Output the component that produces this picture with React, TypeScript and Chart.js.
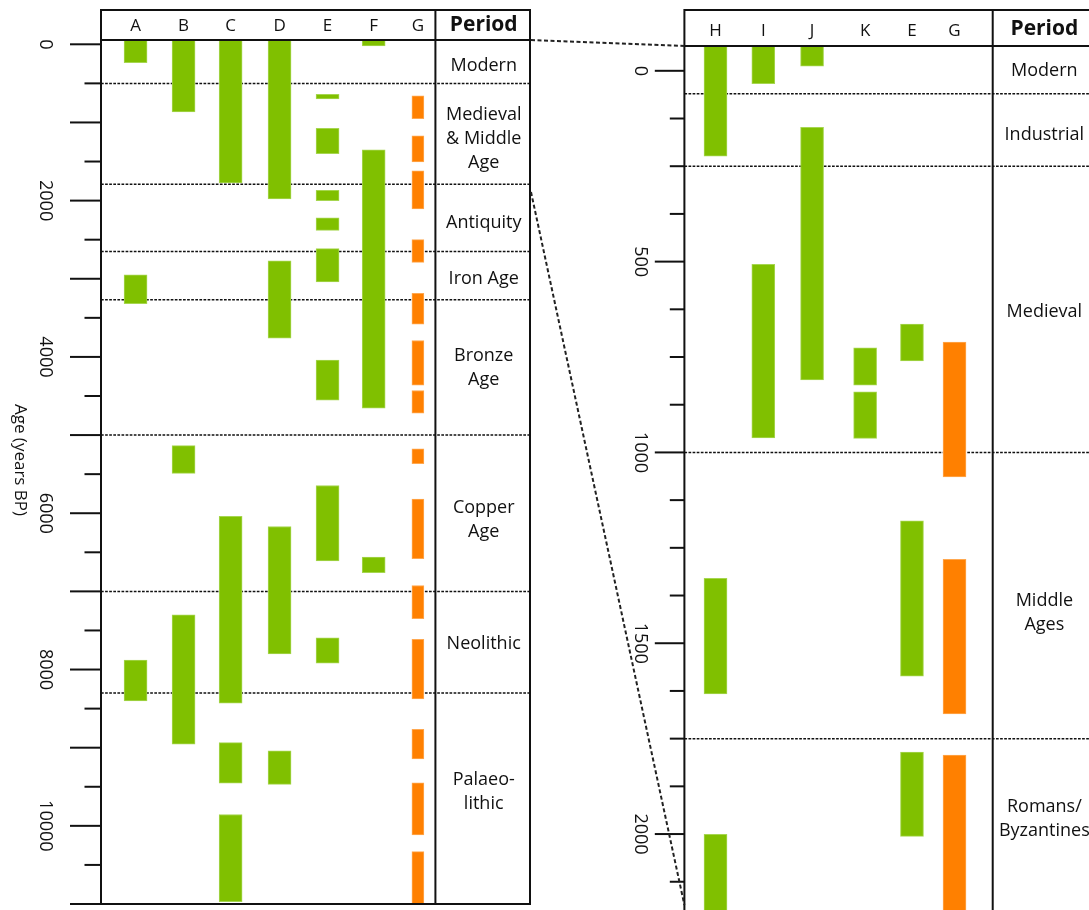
import React, { useEffect, useRef } from "react";
import { Chart, registerables } from "chart.js";

Chart.register(...registerables);

// ---------------- Left panel data (years BP) ----------------
const LEFT_CATEGORIES = ["A", "B", "C", "D", "E", "F", "G"];
const LEFT_POSITIONS = [1, 2.02, 3.02, 4.06, 5.08, 6.06, 7];
const A_RANGES = [[-50, 235], [2950, 3320], [7880, 8400]];
const B_RANGES = [[-50, 866], [5135, 5490], [7300, 8955]];
const C_RANGES = [[-50, 1775], [6040, 8430], [8935, 9455], [9855, 10970]];
const D_RANGES = [[-50, 1980], [2770, 3760], [6170, 7800], [9040, 9470]];
const E_RANGES = [[640, 700], [1075, 1400], [1870, 2000], [2220, 2380], [2615, 3040], [4040, 4555], [5645, 6610], [7595, 7920]];
const F_RANGES = [[-50, 20], [1350, 4655], [6560, 6760]];
const G_RANGES = [[660, 950], [1170, 1505], [1620, 2105], [2500, 2790], [3185, 3580], [3790, 4360], [4430, 4720], [5175, 5365], [5820, 6580], [6925, 7350], [7615, 8375], [8765, 9145], [9450, 10115], [10330, 11000]];
const LEFT_PERIOD_BOUNDS = [500, 1790, 2650, 3270, 5000, 7000, 8300];
const LEFT_PERIOD_NAMES = ["Modern", "Medieval\n& Middle\nAge", "Antiquity", "Iron Age", "Bronze\nAge", "Copper\nAge", "Neolithic", "Palaeo-\nlithic"];
const LEFT_PERIOD_LABEL_AT = [274, 1211, 2286, 3002, 4145, 6085, 7672, 9565];

// ---------------- Right panel data (years BP) ----------------
const RIGHT_CATEGORIES = ["H", "I", "J", "K", "E", "G"];
const RIGHT_POSITIONS = [1, 2, 3.02, 4.13, 5.11, 6.0];
const H_RANGES = [[-70, 224], [1330, 1633], [2001, 2300]];
const I_RANGES = [[-70, 34], [507, 962]];
const J_RANGES = [[-70, -12], [148, 810]];
const K_RANGES = [[726, 824], [841, 963]];
const E_RIGHT_RANGES = [[664, 760], [1179, 1586], [1785, 2006]];
const G_RIGHT_RANGES = [[711, 1064], [1280, 1685], [1793, 2300]];
const RIGHT_PERIOD_BOUNDS = [60, 250, 1000, 1750];
const RIGHT_PERIOD_NAMES = ["Modern", "Industrial", "Medieval", "Middle\nAges", "Romans/\nByzantines"];
const RIGHT_PERIOD_LABEL_AT = [0, 168, 632, 1420, 1961];

// connector anchors (left value, right value)
const CONNECT_LEFT_BOTTOM = 1890;
const CONNECT_RIGHT_BOTTOM = 2186;

const GREEN = "#80c000";
const GREEN_EDGE = "#a6d650";
const ORANGE = "#ff8000";
const ORANGE_EDGE = "#ffa850";
const FONT = '"Open Sans", "Noto Sans", "DejaVu Sans", sans-serif';

const LEFT_SPEC = {
  categories: LEFT_CATEGORIES,
  positions: LEFT_POSITIONS,
  series: [A_RANGES, B_RANGES, C_RANGES, D_RANGES, E_RANGES, F_RANGES, G_RANGES],
  barWidth: (c: string) => (c === "G" ? 12 : 23),
  xMin: 0.2654, xMax: 9.382, sep: 7.372,
  yMin: -55, yMax: 11000,
  tickStep: 500, longStep: 1000, labelStep: 2000,
  bounds: LEFT_PERIOD_BOUNDS, names: LEFT_PERIOD_NAMES, labelAt: LEFT_PERIOD_LABEL_AT,
  headerH: 30, longTick: 31, shortTick: 16.5, labelOffset: 56,
  catDy: 1, periodDy: 0,
  padding: { left: 101, top: 40, right: 15, bottom: 6 },
  title: "Age (years BP)",
};

const RIGHT_SPEC = {
  categories: RIGHT_CATEGORIES,
  positions: RIGHT_POSITIONS,
  series: [H_RANGES, I_RANGES, J_RANGES, K_RANGES, E_RIGHT_RANGES, G_RIGHT_RANGES],
  barWidth: (_c: string) => 23,
  xMin: 0.349, xMax: 8.918, sep: 6.799,
  yMin: -65, yMax: 2220,
  tickStep: 125, longStep: 500, labelStep: 500,
  bounds: RIGHT_PERIOD_BOUNDS, names: RIGHT_PERIOD_NAMES, labelAt: RIGHT_PERIOD_LABEL_AT,
  headerH: 36, longTick: 29.6, shortTick: 14.6, labelOffset: 44,
  catDy: 3, periodDy: 1,
  padding: { left: 144.4, top: 46, right: 6, bottom: 7 },
  title: "",
};

function decorPlugin(spec: any) {
  return {
    id: "decor",
    beforeDatasetsDraw(chart: any) {
      const { ctx, chartArea: a, scales } = chart;
      const y = scales.y;
      ctx.save();
      ctx.strokeStyle = "#111";
      ctx.lineWidth = 1.5;
      ctx.setLineDash([2.7, 1.4]);
      spec.bounds.forEach((b: number) => {
        const py = y.getPixelForValue(b);
        ctx.beginPath();
        ctx.moveTo(a.left, py);
        ctx.lineTo(a.right, py);
        ctx.stroke();
      });
      ctx.restore();
    },
    afterDraw(chart: any) {
      const { ctx, chartArea: a, scales } = chart;
      const x = scales.x;
      const y = scales.y;
      const top = a.top - spec.headerH;
      const sepX = x.getPixelForValue(spec.sep);
      ctx.save();
      ctx.strokeStyle = "#111";
      ctx.lineWidth = 2;
      ctx.setLineDash([]);
      ctx.beginPath();
      ctx.moveTo(a.left - 1, top); ctx.lineTo(a.right + 1, top);
      ctx.moveTo(a.left, a.top); ctx.lineTo(a.right, a.top);
      ctx.moveTo(a.left, a.bottom); ctx.lineTo(a.right + 1, a.bottom);
      ctx.moveTo(a.left, top); ctx.lineTo(a.left, a.bottom);
      ctx.moveTo(sepX, top); ctx.lineTo(sepX, a.bottom);
      ctx.moveTo(a.right, top); ctx.lineTo(a.right, a.bottom);
      ctx.stroke();

      // ticks & labels
      ctx.fillStyle = "#111";
      ctx.font = `18px ${FONT}`;
      ctx.textAlign = "center";
      ctx.textBaseline = "middle";
      for (let v = 0; v <= spec.yMax + 1e-6; v += spec.tickStep) {
        const py = y.getPixelForValue(v);
        if (py < a.top - 0.5) continue;
        const long = v % spec.longStep === 0;
        ctx.beginPath();
        ctx.moveTo(a.left - (long ? spec.longTick : spec.shortTick), py);
        ctx.lineTo(a.left, py);
        ctx.stroke();
        if (v % spec.labelStep === 0) {
          ctx.save();
          ctx.translate(a.left - spec.labelOffset, py);
          ctx.rotate(Math.PI / 2);
          ctx.fillText(String(v), 0, 0);
          ctx.restore();
        }
      }

      if (spec.title) {
        ctx.save();
        ctx.font = `17px ${FONT}`;
        ctx.translate(20, 460);
        ctx.rotate(Math.PI / 2);
        ctx.fillText(spec.title, 0, 0);
        ctx.restore();
      }

      // category labels
      ctx.font = `17px ${FONT}`;
      const headY = top + spec.headerH / 2 + spec.catDy;
      spec.categories.forEach((c: string, i: number) => {
        ctx.fillText(c, x.getPixelForValue(spec.positions[i]), headY);
      });
      const colX = (sepX + a.right) / 2 + 1;
      ctx.font = `bold 21px ${FONT}`;
      ctx.fillText("Period", colX, top + spec.headerH / 2 + spec.periodDy);

      // period names
      ctx.font = `18px ${FONT}`;
      spec.names.forEach((n: string, i: number) => {
        const lines = n.split("\n");
        const cy = y.getPixelForValue(spec.labelAt[i]);
        lines.forEach((ln, k) => {
          ctx.fillText(ln, colX, cy + (k - (lines.length - 1) / 2) * 24);
        });
      });
      ctx.restore();
    },
  };
}

function buildChart(canvas: HTMLCanvasElement, spec: any) {
  const datasets = spec.categories.map((c: string, i: number) => {
    const orange = c === "G";
    return {
      label: c,
      data: spec.series[i].map((r: number[]) => ({ x: spec.positions[i], y: r })),
      backgroundColor: orange ? ORANGE : GREEN,
      borderColor: orange ? ORANGE_EDGE : GREEN_EDGE,
      borderWidth: 1,
      borderSkipped: false,
      barThickness: spec.barWidth(c),
      grouped: false,
    };
  });
  return new Chart(canvas, {
    type: "bar",
    data: { datasets },
    options: {
      responsive: false,
      animation: false,
      events: [],
      layout: { padding: spec.padding },
      plugins: { legend: { display: false }, tooltip: { enabled: false } },
      scales: {
        x: { type: "linear", min: spec.xMin, max: spec.xMax, display: false, offset: false },
        y: { type: "linear", min: spec.yMin, max: spec.yMax, reverse: true, display: false },
      },
    } as any,
    plugins: [decorPlugin(spec)],
  });
}

const RIGHT_OFFSET = 540;

export default function App() {
  const leftRef = useRef<HTMLCanvasElement>(null);
  const rightRef = useRef<HTMLCanvasElement>(null);
  const overRef = useRef<HTMLCanvasElement>(null);

  useEffect(() => {
    const left = buildChart(leftRef.current!, LEFT_SPEC);
    const right = buildChart(rightRef.current!, RIGHT_SPEC);
    const oc = overRef.current!;
    const ctx = oc.getContext("2d")!;
    ctx.clearRect(0, 0, oc.width, oc.height);
    const la = left.chartArea;
    const ra = right.chartArea;
    const ly = left.scales.y;
    const ry = right.scales.y;
    ctx.save();
    ctx.strokeStyle = "#222";
    ctx.lineWidth = 2;
    ctx.setLineDash([4, 2.5]);
    ctx.beginPath();
    ctx.moveTo(la.right + 1, la.top);
    ctx.lineTo(RIGHT_OFFSET + ra.left, ra.top);
    ctx.stroke();
    ctx.beginPath();
    ctx.moveTo(la.right + 1, ly.getPixelForValue(CONNECT_LEFT_BOTTOM));
    ctx.lineTo(RIGHT_OFFSET + ra.left, ry.getPixelForValue(CONNECT_RIGHT_BOTTOM));
    ctx.stroke();
    ctx.restore();
    return () => {
      left.destroy();
      right.destroy();
    };
  }, []);

  return (
    <div style={{ position: "fixed", left: 0, top: 0, width: 1089, height: 910, overflow: "hidden", background: "#fff" }}>
      <canvas ref={leftRef} width={545} height={910} style={{ position: "absolute", left: 0, top: 0 }} />
      <canvas ref={rightRef} width={560} height={925} style={{ position: "absolute", left: RIGHT_OFFSET, top: 0 }} />
      <canvas ref={overRef} width={1089} height={910} style={{ position: "absolute", left: 0, top: 0, pointerEvents: "none" }} />
    </div>
  );
}
